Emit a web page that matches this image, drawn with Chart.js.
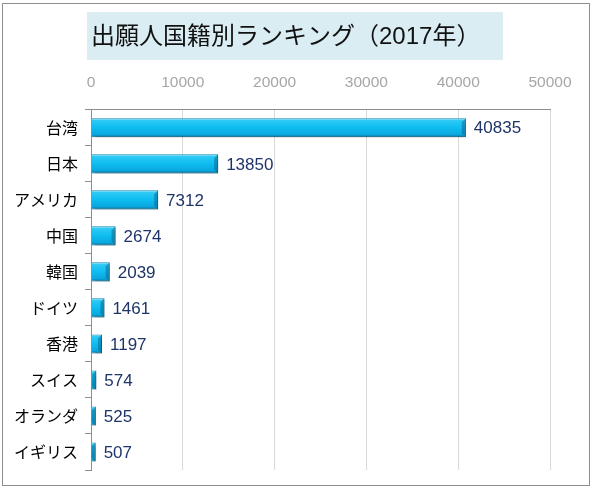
<!DOCTYPE html>
<html>
<head>
<meta charset="utf-8">
<title>出願人国籍別ランキング（2017年）</title>
<script src="https://cdn.jsdelivr.net/npm/chart.js@4.4.1/dist/chart.umd.min.js"></script>
<style>
  html, body { margin: 0; padding: 0; background: #fff; }
  #wrap { position: relative; width: 593px; height: 490px; }
</style>
</head>
<body>
<div id="wrap"><canvas id="rankChart"></canvas></div>
<script>
// data
const countries = ["台湾", "日本", "アメリカ", "中国", "韓国", "ドイツ", "香港", "スイス", "オランダ", "イギリス"];
const applicants = [40835, 13850, 7312, 2674, 2039, 1461, 1197, 574, 525, 507];
const axisTicks = [0, 10000, 20000, 30000, 40000, 50000];
const chartTitle = "出願人国籍別ランキング（2017年）";

const BAR_PCT = 0.53;
const jpFont = '"Liberation Sans", Arial, "Noto Sans CJK JP", sans-serif';

// gradient for the glossy cyan bars
function barFill(c) {
  const chart = c.chart;
  const y = chart.scales && chart.scales.y;
  if (!chart.chartArea || !y || c.dataIndex === undefined) return "#14bcef";
  const mid = y.getPixelForValue(c.dataIndex);
  const half = (y.height / countries.length) * BAR_PCT / 2;
  const g = chart.ctx.createLinearGradient(0, mid - half, 0, mid + half);
  g.addColorStop(0, "#8ae6fc");
  g.addColorStop(0.12, "#2ccaf4");
  g.addColorStop(0.5, "#0ebcf0");
  g.addColorStop(0.85, "#0aa8df");
  g.addColorStop(1, "#086b97");
  return g;
}

const pageDecor = {
  id: "pageDecor",
  beforeDraw(chart) {
    const ctx = chart.ctx;
    ctx.save();
    ctx.fillStyle = "#daedf3";
    ctx.fillRect(87, 12, 416, 48);
    ctx.restore();
  },
  beforeDatasetsDraw(chart) {
    const ctx = chart.ctx;
    ctx.save();
    ctx.shadowColor = "rgba(0,0,0,0.35)";
    ctx.shadowBlur = 3;
    ctx.shadowOffsetX = 2;
    ctx.shadowOffsetY = 3;
  },
  afterDatasetsDraw(chart) {
    const ctx = chart.ctx;
    ctx.restore();
    const bars = chart.getDatasetMeta(0).data;
    ctx.save();
    bars.forEach((bar, i) => {
      const h = bar.height;
      const top = bar.y - h / 2;
      // darker bevel on the bar end
      const w = Math.min(4, bar.x - bar.base);
      ctx.fillStyle = "rgba(5,90,130,0.45)";
      ctx.beginPath();
      ctx.moveTo(bar.x - w, top + w);
      ctx.lineTo(bar.x, top);
      ctx.lineTo(bar.x, top + h);
      ctx.lineTo(bar.x - w, top + h - w);
      ctx.closePath();
      ctx.fill();
      // value label
      ctx.fillStyle = "#1f3468";
      ctx.font = '17px "Liberation Sans", Arial, sans-serif';
      ctx.textAlign = "left";
      ctx.textBaseline = "middle";
      ctx.fillText(String(applicants[i]), bar.x + 8, bar.y + 1);
    });
    ctx.restore();
  },
  afterDraw(chart) {
    const ctx = chart.ctx;
    ctx.save();
    ctx.strokeStyle = "#8e8e8e";
    ctx.lineWidth = 1;
    ctx.strokeRect(2.5, 3.5, 587, 482);
    ctx.restore();
  }
};

new Chart(document.getElementById("rankChart"), {
  type: "bar",
  data: {
    labels: countries,
    datasets: [{
      data: applicants,
      backgroundColor: barFill,
      borderColor: "#0b86b8",
      borderWidth: 1,
      barPercentage: BAR_PCT,
      categoryPercentage: 1
    }]
  },
  options: {
    indexAxis: "y",
    responsive: true,
    maintainAspectRatio: false,
    animation: false,
    layout: { padding: { left: 0, right: 43, top: 0, bottom: 20 } },
    plugins: {
      legend: { display: false },
      tooltip: { enabled: false },
      title: {
        display: true,
        text: chartTitle,
        align: "start",
        fullSize: false,
        color: "#111",
        font: { family: jpFont, size: 24, weight: "normal", lineHeight: 1.2 },
        padding: { top: 23, bottom: 8 }
      }
    },
    scales: {
      x: {
        position: "top",
        min: axisTicks[0],
        max: axisTicks[axisTicks.length - 1],
        afterBuildTicks: (s) => { s.ticks = axisTicks.map(v => ({ value: v })); },
        afterFit: (s) => { s.height = 50; },
        ticks: {
          color: "#a6a6a6",
          font: { family: '"Liberation Sans", Arial, sans-serif', size: 15.5 },
          padding: 18,
          callback: (v) => String(v)
        },
        grid: { color: "#d9d9d9", drawTicks: false },
        border: { color: "#8e8e8e" }
      },
      y: {
        afterFit: (s) => { s.width = 91; },
        ticks: {
          color: "#000",
          font: { family: '"Noto Sans CJK JP", sans-serif', size: 16 },
          padding: 7
        },
        grid: { offset: true, drawOnChartArea: false, tickLength: 6, color: "#8e8e8e" },
        border: { color: "#8e8e8e" }
      }
    }
  },
  plugins: [pageDecor]
});
</script>
</body>
</html>
